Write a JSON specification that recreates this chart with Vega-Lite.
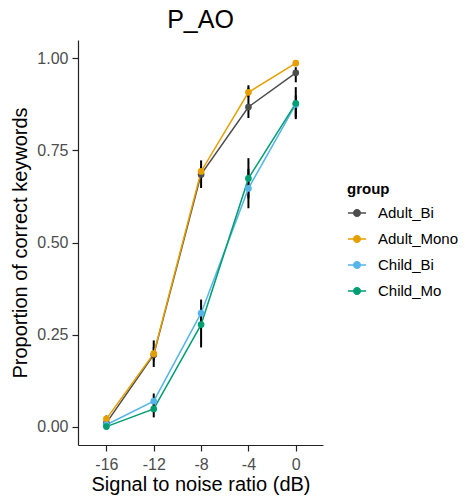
{
  "$schema": "https://vega.github.io/schema/vega-lite/v6.json",
  "autosize": {"type": "none"},
  "width": 245,
  "height": 405,
  "padding": {"left": 78, "top": 40, "right": 146, "bottom": 54},
  "title": {"text": "P_AO", "fontSize": 25, "font": "Liberation Sans", "fontWeight": "normal", "color": "#000", "offset": 7},
  "config": {
    "view": {"stroke": null},
    "font": "Liberation Sans",
    "axis": {"grid": false, "domainColor": "#222", "tickColor": "#222", "labelColor": "#4d4d4d", "titleColor": "#000", "labelFontSize": 16, "titleFontSize": 20, "titleFontWeight": "normal", "tickSize": 6, "domainWidth": 1.2, "tickWidth": 1.2, "labelFont": "Liberation Sans", "titleFont": "Liberation Sans", "labelPadding": 4},
    "legend": {"titleFontSize": 15, "titleFontWeight": "bold", "labelFontSize": 15, "labelColor": "#000", "titleColor": "#000", "labelFont": "Liberation Sans", "titleFont": "Liberation Sans"}
  },
  "data": {"values": [
    {"group": "Adult_Bi", "snr": -16, "prop": 0.01, "lo": 0.0, "hi": 0.02},
    {"group": "Adult_Bi", "snr": -12, "prop": 0.195, "lo": 0.162, "hi": 0.234},
    {"group": "Adult_Bi", "snr": -8, "prop": 0.685, "lo": 0.648, "hi": 0.723},
    {"group": "Adult_Bi", "snr": -4, "prop": 0.868, "lo": 0.838, "hi": 0.927},
    {"group": "Adult_Bi", "snr": 0, "prop": 0.961, "lo": 0.935, "hi": 0.976},
    {"group": "Adult_Mono", "snr": -16, "prop": 0.021, "lo": 0.012, "hi": 0.03},
    {"group": "Adult_Mono", "snr": -12, "prop": 0.198, "lo": 0.18, "hi": 0.216},
    {"group": "Adult_Mono", "snr": -8, "prop": 0.693, "lo": 0.68, "hi": 0.706},
    {"group": "Adult_Mono", "snr": -4, "prop": 0.908, "lo": 0.895, "hi": 0.921},
    {"group": "Adult_Mono", "snr": 0, "prop": 0.987, "lo": 0.982, "hi": 0.992},
    {"group": "Child_Bi", "snr": -16, "prop": 0.005, "lo": 0.0, "hi": 0.01},
    {"group": "Child_Bi", "snr": -12, "prop": 0.069, "lo": 0.05, "hi": 0.09},
    {"group": "Child_Bi", "snr": -8, "prop": 0.308, "lo": 0.28, "hi": 0.345},
    {"group": "Child_Bi", "snr": -4, "prop": 0.647, "lo": 0.593, "hi": 0.70},
    {"group": "Child_Bi", "snr": 0, "prop": 0.875, "lo": 0.835, "hi": 0.90},
    {"group": "Child_Mo", "snr": -16, "prop": 0.0, "lo": 0.0, "hi": 0.005},
    {"group": "Child_Mo", "snr": -12, "prop": 0.048, "lo": 0.025, "hi": 0.065},
    {"group": "Child_Mo", "snr": -8, "prop": 0.277, "lo": 0.215, "hi": 0.31},
    {"group": "Child_Mo", "snr": -4, "prop": 0.674, "lo": 0.62, "hi": 0.729},
    {"group": "Child_Mo", "snr": 0, "prop": 0.878, "lo": 0.84, "hi": 0.922}
  ]},
  "encoding": {
    "x": {"field": "snr", "type": "quantitative", "scale": {"domain": [-18.4, 2.3], "nice": false, "zero": false},
          "axis": {"values": [-16, -12, -8, -4, 0], "title": "Signal to noise ratio (dB)", "labelExpr": "'' + datum.value", "titlePadding": 2, "labelPadding": 5}},
    "xOffset": {"field": "group", "type": "nominal", "scale": {"range": [-2.5, 2.5]}},
    "color": {"field": "group", "type": "nominal",
      "scale": {"domain": ["Adult_Bi", "Adult_Mono", "Child_Bi", "Child_Mo"], "range": ["#4d4d4d", "#E69F00", "#56B4E9", "#009E73"]},
      "legend": {"title": "group", "orient": "none", "legendX": 269, "legendY": 142, "symbolType": "M-1,0H1M-0.36,0A0.36,0.36 0 1,1 0.36,0A0.36,0.36 0 1,1 -0.36,0Z", "symbolSize": 330, "symbolStrokeWidth": 1.5, "rowPadding": 8, "labelOffset": 11, "titlePadding": 6}}
  },
  "layer": [
    {"mark": {"type": "rule", "color": "#000", "strokeWidth": 2},
     "encoding": {"y": {"field": "lo", "type": "quantitative"}, "y2": {"field": "hi"}, "color": {"value": "#000"}}},
    {"mark": {"type": "line", "strokeWidth": 1.5},
     "encoding": {"y": {"field": "prop", "type": "quantitative", "scale": {"domain": [-0.05, 1.05], "nice": false, "zero": false},
        "axis": {"values": [0, 0.25, 0.5, 0.75, 1], "format": ".2f", "title": "Proportion of correct keywords", "titlePadding": 6}}}},
    {"mark": {"type": "point", "filled": true, "size": 45, "opacity": 1},
     "encoding": {"y": {"field": "prop", "type": "quantitative"}}}
  ]
}
